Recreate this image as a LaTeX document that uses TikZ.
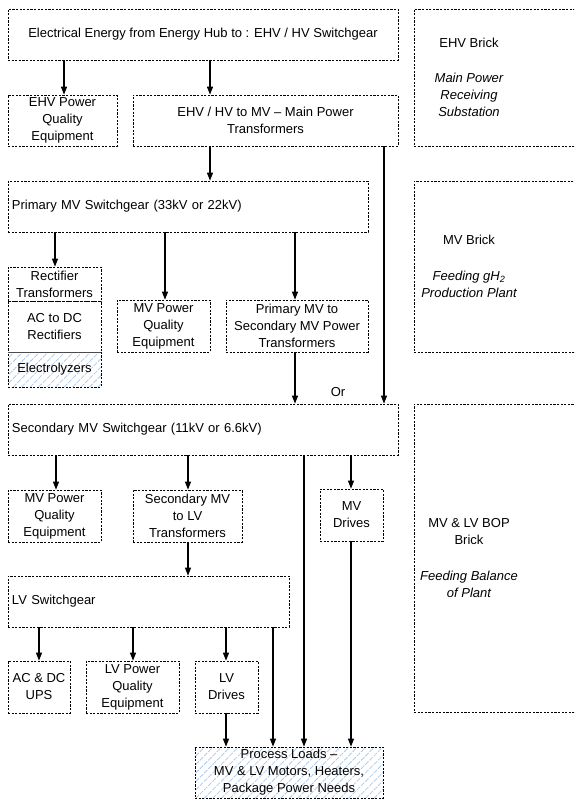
\documentclass[tikz,border=0pt]{standalone}
\usepackage{fontspec}
\setmainfont{Liberation Sans}
\usetikzlibrary{arrows.meta,patterns.meta}
\definecolor{hatchblue}{RGB}{170,200,232}
\begin{document}
\begin{tikzpicture}[x=1pt,y=-1pt,
  every node/.style={font=\fontsize{13}{17}\selectfont},
  blk/.style={draw, dash pattern=on 2.2pt off 1.4pt, line width=0.7pt,
    rectangle, inner sep=0pt, align=center},
  hatched/.style={pattern={Lines[angle=45,distance=6pt,line width=0.8pt]},
    pattern color=hatchblue},
  arr/.style={-{Triangle[length=8pt,width=6pt]}, line width=1.1pt},
  side/.style={align=center, inner sep=0pt}]
\clip (0,0) rectangle (574,799);
\useasboundingbox (0,0) rectangle (574,799);

% ---- EHV level ----
\node[blk, minimum width=390pt, minimum height=51pt] (top) at (203,34.5)
  {Electrical Energy from Energy Hub to : EHV / HV Switchgear};
\node[blk, minimum width=109pt, minimum height=51pt] (ehvpq) at (62.5,120.5)
  {EHV Power\\Quality\\Equipment};
\node[blk, minimum width=265pt, minimum height=51pt] (mainxf) at (265.5,120.5)
  {EHV / HV to MV -- Main Power\\Transformers};

% ---- bricks on the right ----
\node[blk, minimum width=176pt, minimum height=137pt] (ehvbrick) at (502,77.5) {};
\node[blk, minimum width=176pt, minimum height=171pt] (mvbrick) at (502,266.5) {};
\node[blk, minimum width=176pt, minimum height=308pt] (bopbrick) at (502,558) {};
\node[side] (ehvt) at (469,43) {EHV Brick};
\node[side] (ehvs) at (469,95) {\itshape Main Power\\\itshape Receiving\\\itshape Substation};
\node[side] (mvt) at (469,240) {MV Brick};
\node[side] (mvs) at (469,284) {\itshape Feeding gH\textsubscript{2}\\\itshape Production Plant};
\node[side] (bopt) at (469,531.5) {MV \& LV BOP\\Brick};
\node[side] (bops) at (469,584.5) {\itshape Feeding Balance\\\itshape of Plant};

% ---- primary MV level ----
\node[blk, minimum width=360pt, minimum height=51pt, text width=352pt, align=left] (pmv) at (188,206.5)
  {Primary MV Switchgear (33kV or 22kV)};
\node[blk, minimum width=93pt, minimum height=51pt] (acdc) at (54.5,326.5) {AC to DC\\Rectifiers};
\node[blk, minimum width=93pt, minimum height=34pt] (rxf) at (54.5,284)
  {Rectifier\\Transformers};
\node[blk, hatched, minimum width=93pt, minimum height=35pt] (elec) at (54.5,369.5)
  {Electrolyzers};
\draw[line width=0.6pt, black!70] (acdc.south west) -- (acdc.south east);
\node[blk, minimum width=93pt, minimum height=52pt] (mvpq1) at (163.5,326)
  {MV Power\\Quality\\Equipment};
\node[blk, minimum width=142pt, minimum height=52pt] (p2s) at (297,326)
  {Primary MV to\\Secondary MV Power\\Transformers};

% ---- secondary MV level ----
\node[blk, minimum width=390pt, minimum height=51pt, text width=382pt, align=left] (smv) at (203,429.5)
  {Secondary MV Switchgear (11kV or 6.6kV)};
\node (or) at (338,392) {Or};
\node[blk, minimum width=93pt, minimum height=52pt] (mvpq2) at (54.5,516)
  {MV Power\\Quality\\Equipment};
\node[blk, minimum width=109pt, minimum height=52pt] (s2lv) at (187.5,516)
  {Secondary MV\\to LV\\Transformers};
\node[blk, minimum width=63pt, minimum height=52pt] (mvdrv) at (351.5,515)
  {MV\\Drives};

% ---- LV level ----
\node[blk, minimum width=281pt, minimum height=51pt, text width=273pt, align=left] (lvsw) at (148.5,601.5)
  {LV Switchgear};
\node[blk, minimum width=62pt, minimum height=52pt] (ups) at (39,687)
  {AC \& DC\\UPS};
\node[blk, minimum width=93pt, minimum height=52pt] (lvpq) at (132.5,687)
  {LV Power\\Quality\\Equipment};
\node[blk, minimum width=63pt, minimum height=52pt] (lvdrv) at (226.5,687)
  {LV\\Drives};
\node[blk, hatched, minimum width=188pt, minimum height=51pt] (loads) at (289,772.5)
  {Process Loads --\\MV \& LV Motors, Heaters,\\Package Power Needs};

% ---- connectors ----
\draw[arr, line width=1.4pt] (top.south -| 64,0) -- (ehvpq.north -| 64,0);
\draw[arr, line width=1.4pt] (top.south -| 210,0) -- (mainxf.north -| 210,0);
\draw[arr] (mainxf.south -| 210,0) -- (pmv.north -| 210,0);
\draw[arr] (mainxf.south -| 384,0) -- (smv.north -| 384,0);
\draw[arr] (pmv.south -| 55,0) -- (rxf.north -| 55,0);
\draw[arr] (pmv.south -| 165,0) -- (mvpq1.north -| 165,0);
\draw[arr] (pmv.south -| 295,0) -- (p2s.north -| 295,0);
\draw[arr] (p2s.south -| 295,0) -- (smv.north -| 295,0);
\draw[arr] (smv.south -| 56,0) -- (mvpq2.north -| 56,0);
\draw[arr] (smv.south -| 188,0) -- (s2lv.north -| 188,0);
\draw[arr] (smv.south -| 351,0) -- (mvdrv.north -| 351,0);
\draw[arr] (smv.south -| 304,0) -- (loads.north -| 304,0);
\draw[arr] (s2lv.south -| 188,0) -- (lvsw.north -| 188,0);
\draw[arr] (lvsw.south -| 39,0) -- (ups.north -| 39,0);
\draw[arr] (lvsw.south -| 133,0) -- (lvpq.north -| 133,0);
\draw[arr] (lvsw.south -| 226,0) -- (lvdrv.north -| 226,0);
\draw[arr] (lvsw.south -| 273,0) -- (loads.north -| 273,0);
\draw[arr] (lvdrv.south -| 226,0) -- (loads.north -| 226,0);
\draw[arr] (mvdrv.south -| 351,0) -- (loads.north -| 351,0);
\end{tikzpicture}
\end{document}
